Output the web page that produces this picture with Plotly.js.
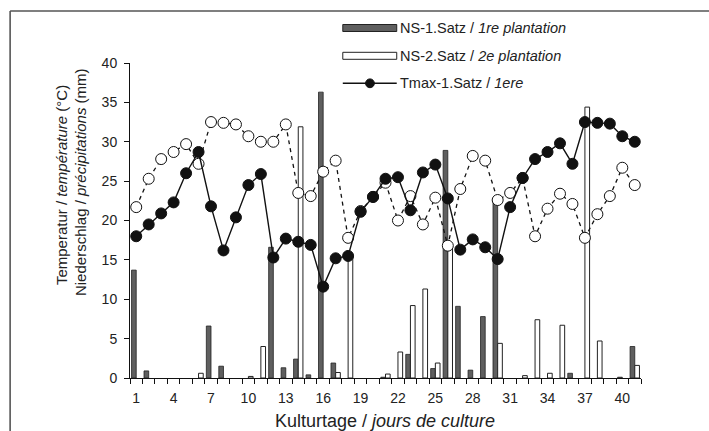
<!DOCTYPE html>
<html>
<head>
<meta charset="utf-8">
<script src="https://cdn.plot.ly/plotly-3.0.1.min.js"></script>
<style>
html,body{margin:0;padding:0;background:#fff;}
#chart{width:709px;height:431px;}
</style>
</head>
<body>
<div id="chart"></div>
<script>
var days = [1,2,3,4,5,6,7,8,9,10,11,12,13,14,15,16,17,18,19,20,21,22,23,24,25,26,27,28,29,30,31,32,33,34,35,36,37,38,39,40,41];
var ns1 = [13.7,0.9,0,0,0,0,6.6,1.5,0,0,0,16.6,1.3,2.4,0.4,36.3,1.9,0,0,0,0.1,0,3.0,0,1.2,28.9,9.1,1.0,7.8,22.6,0,0,0,0,0,0.6,0,0,0,0.1,4.0];
var ns2 = [0,0,0,0,0,0.6,0,0,0,0.2,4.0,0,0,31.9,0,0,0.7,15.5,0,0,0.5,3.3,9.2,11.3,1.9,16.7,0,0,0,4.4,0,0.3,7.4,0.6,6.7,0,34.4,4.7,0,0,1.6];
var tmax1 = [18.0,19.5,20.9,22.3,26.0,28.7,21.8,16.2,20.4,24.5,25.9,15.3,17.7,17.3,16.9,11.6,15.2,15.5,21.1,23.0,25.3,25.5,21.3,26.1,27.1,22.8,16.3,17.6,16.6,15.1,21.7,25.4,27.8,28.7,29.8,27.2,32.5,32.4,32.3,30.7,30.0];
var tmax2 = [21.7,25.3,27.8,28.7,29.7,27.2,32.5,32.4,32.2,30.7,30.0,30.0,32.2,23.5,23.1,26.2,27.6,17.8,21.2,23.0,24.8,20.0,23.1,19.5,22.9,16.8,24.0,28.2,27.6,22.6,23.5,25.4,18.0,21.5,23.4,22.1,17.8,20.8,23.1,26.7,24.5];
var xTickVals = [1,4,7,10,13,16,19,22,25,28,31,34,37,40];
var xTickText = ["1","4","7","10","13","16","19","22","25","28","31","34","37","40"];
var legendLabels = ["NS-1.Satz / <i>1re plantation</i>", "NS-2.Satz / <i>2e plantation</i>", "Tmax-1.Satz / <i>1ere</i>"];
var yTitle1 = "Temperatur / <i>température</i> (°C)";
var yTitle2 = "Niederschlag / <i>précipitations</i> (mm)";
var xTitle = "Kulturtage / <i>jours de culture</i>";

var FONT = "Liberation Sans, Arial, Helvetica, sans-serif";
var DARK = "#5f5f5f";

// zero rainfall days draw no bar
function noZero(a){ return a.map(function(v){ return v === 0 ? null : v; }); }

// plot area in pixels
var L = 130, R = 67.5, T = 63, B = 53, W = 709, H = 431;
var PW = W - L - R, PH = H - T - B;
function px(x){ return (x - L) / PW; }
function py(y){ return (H - B - y) / PH; }

var traces = [
  {type:'bar', x:days, y:noZero(ns1), name:legendLabels[0], marker:{color:DARK, line:{color:'#222', width:0.8}}, showlegend:false},
  {type:'bar', x:days, y:noZero(ns2), name:legendLabels[1], marker:{color:'#ffffff', line:{color:'#222', width:1}}, showlegend:false},
  {type:'scatter', mode:'lines+markers', x:days, y:tmax2, name:'Tmax-2.Satz', line:{color:'#111', width:1.3, dash:'4px,4px'}, marker:{symbol:'circle', size:11, color:'#ffffff', line:{color:'#111', width:1}}, showlegend:false},
  {type:'scatter', mode:'lines+markers', x:days, y:tmax1, name:legendLabels[2], line:{color:'#111', width:1.4}, marker:{symbol:'circle', size:11, color:'#111', line:{color:'#111', width:1}}, showlegend:false}
];

var shapes = [
  {type:'line', xref:'paper', yref:'paper', x0:px(10), x1:px(712), y0:py(11), y1:py(11), line:{color:'#555', width:1.6}},
  {type:'line', xref:'paper', yref:'paper', x0:px(10), x1:px(10), y0:py(11), y1:py(440), line:{color:'#555', width:1.6}},
  {type:'rect', xref:'paper', yref:'paper', x0:px(343), x1:px(397), y0:py(31.5), y1:py(24.5), fillcolor:DARK, line:{color:'#222', width:1}},
  {type:'rect', xref:'paper', yref:'paper', x0:px(343), x1:px(397), y0:py(59.3), y1:py(52.3), fillcolor:'#fff', line:{color:'#222', width:1}},
  {type:'line', xref:'paper', yref:'paper', x0:px(343), x1:px(397), y0:py(83.3), y1:py(83.3), line:{color:'#111', width:1.6}},
  {type:'circle', xref:'paper', yref:'paper', x0:px(365.8), x1:px(374.6), y0:py(87.7), y1:py(78.9), fillcolor:'#111', line:{color:'#111', width:1}}
];

var annotations = [
  {xref:'paper', yref:'paper', x:px(398), y:py(27.7), text:legendLabels[0], showarrow:false, xanchor:'left', yanchor:'middle', font:{family:FONT, size:14.5, color:'#222'}},
  {xref:'paper', yref:'paper', x:px(398), y:py(55.7), text:legendLabels[1], showarrow:false, xanchor:'left', yanchor:'middle', font:{family:FONT, size:14.5, color:'#222'}},
  {xref:'paper', yref:'paper', x:px(398), y:py(83.3), text:legendLabels[2], showarrow:false, xanchor:'left', yanchor:'middle', font:{family:FONT, size:14.5, color:'#222'}},
  {xref:'paper', yref:'paper', x:px(61), y:py(185), text:yTitle1, textangle:-90, showarrow:false, xanchor:'center', yanchor:'middle', font:{family:FONT, size:15, color:'#222'}},
  {xref:'paper', yref:'paper', x:px(80), y:py(182), text:yTitle2, textangle:-90, showarrow:false, xanchor:'center', yanchor:'middle', font:{family:FONT, size:15, color:'#222'}},
  {xref:'paper', yref:'paper', x:px(385), y:py(421), text:xTitle, showarrow:false, xanchor:'center', yanchor:'middle', font:{family:FONT, size:18, color:'#222'}}
];

var layout = {
  width:W, height:H,
  margin:{l:L, r:R, t:T, b:B, pad:0},
  paper_bgcolor:'#fff', plot_bgcolor:'#fff',
  font:{family:FONT, size:14, color:'#222'},
  barmode:'group', bargap:0.25, bargroupgap:0,
  showlegend:false,
  xaxis:{
    range:[0.5, 41.5], tickmode:'array', tickvals:xTickVals, ticktext:xTickText,
    ticks:'', ticklabelstandoff:7, showgrid:false, zeroline:false, showline:true, linecolor:'#111', linewidth:1,
    tickfont:{family:FONT, size:14, color:'#222'},
    minor:{tickmode:'linear', tick0:0.5, dtick:1, ticks:'outside', ticklen:5, tickcolor:'#111', tickwidth:1, showgrid:false}
  },
  yaxis:{
    range:[0, 40], dtick:5, tick0:0, ticks:'outside', ticklen:5, tickcolor:'#111', tickwidth:1,
    ticklabelstandoff:4,
    showgrid:false, zeroline:false, showline:true, linecolor:'#111', linewidth:1,
    tickfont:{family:FONT, size:14, color:'#222'}
  },
  shapes:shapes,
  annotations:annotations
};

Plotly.newPlot('chart', traces, layout, {displayModeBar:false, staticPlot:true});
</script>
</body>
</html>
